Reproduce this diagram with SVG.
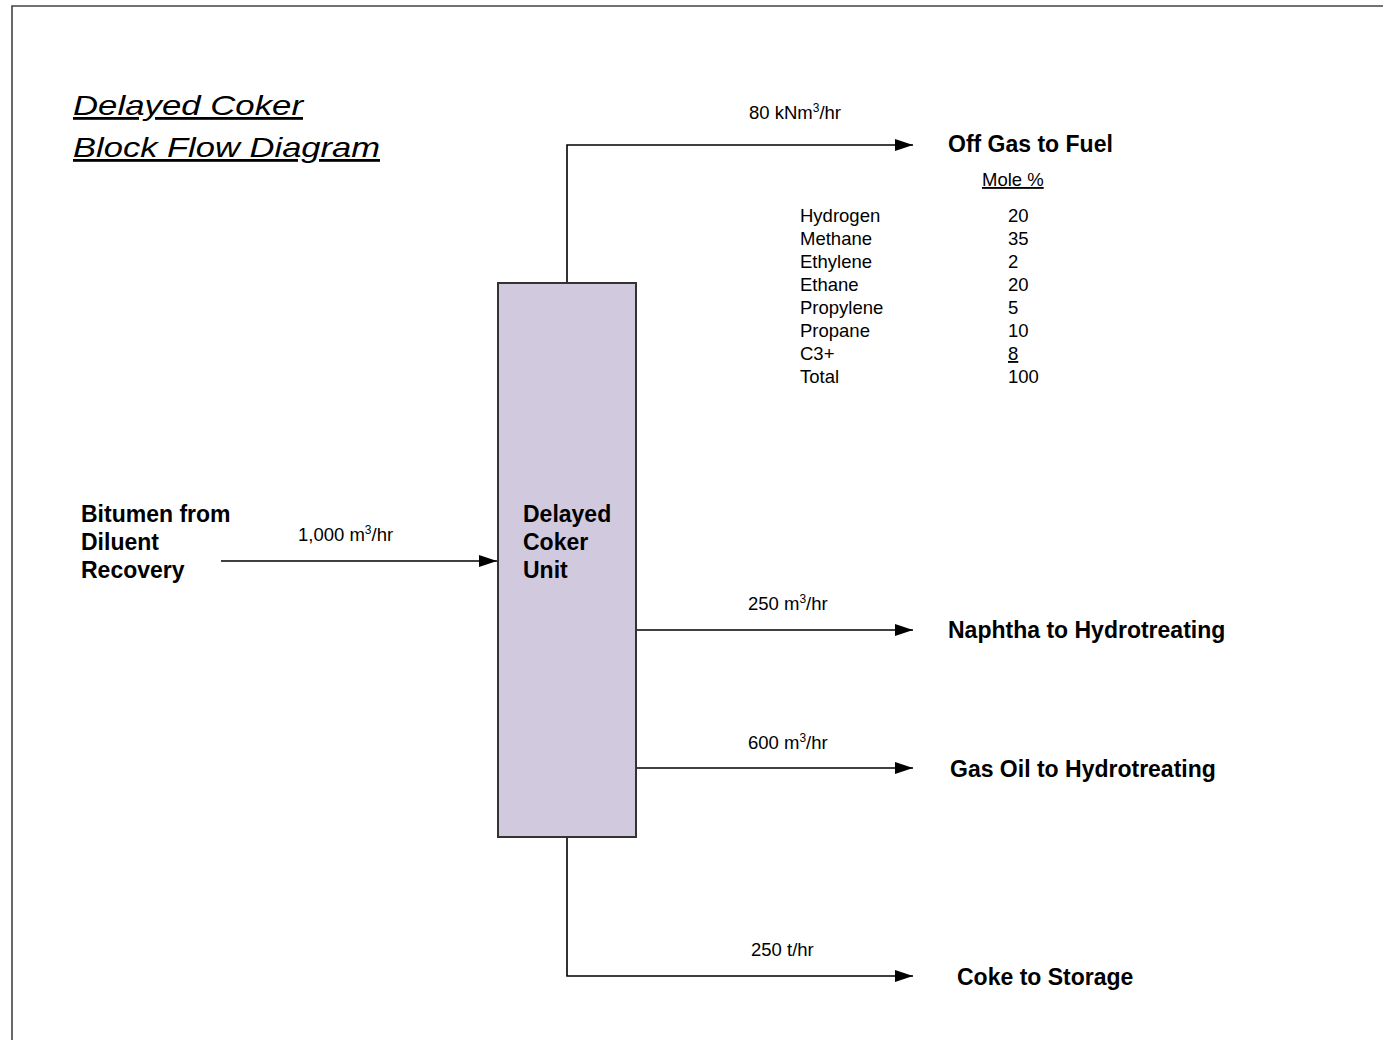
<svg xmlns="http://www.w3.org/2000/svg" width="1383" height="1040" viewBox="0 0 1383 1040">
<style>
text{font-family:"Liberation Sans",Arial,sans-serif;fill:#000}
.title{font-size:28px;font-style:italic;text-decoration:underline}
.lbl{font-size:23px;font-weight:bold}
.sm{font-size:18.5px}
.flow{fill:none;stroke:#000;stroke-width:1.6}
.u{text-decoration:underline}
</style>
<defs>
<marker id="arr" markerUnits="userSpaceOnUse" markerWidth="20" markerHeight="14" refX="18" refY="6" orient="auto">
<path d="M0,0 L18,6 L0,12 Z" fill="#000"/>
</marker>
</defs>
<rect width="1383" height="1040" fill="#fff"/>
<path d="M12,1040 V6 H1383" fill="none" stroke="#444" stroke-width="1.6"/>
<g id="title">
<text class="title" x="73" y="115" textLength="230" lengthAdjust="spacingAndGlyphs">Delayed Coker</text>
<text class="title" x="73" y="157" textLength="307" lengthAdjust="spacingAndGlyphs">Block Flow Diagram</text>
</g>
<g id="connectors">
<path class="flow" d="M221,561 H497" marker-end="url(#arr)"/>
<path class="flow" d="M567,283 V145 H913" marker-end="url(#arr)"/>
<path class="flow" d="M636,630 H913" marker-end="url(#arr)"/>
<path class="flow" d="M636,768 H913" marker-end="url(#arr)"/>
<path class="flow" d="M567,837 V976 H913" marker-end="url(#arr)"/>
<text class="sm" x="298" y="541">1,000 m<tspan dy="-7" font-size="12">3</tspan><tspan dy="7">/hr</tspan></text>
<text class="sm" x="749" y="119">80 kNm<tspan dy="-7" font-size="12">3</tspan><tspan dy="7">/hr</tspan></text>
<text class="sm" x="748" y="610">250 m<tspan dy="-7" font-size="12">3</tspan><tspan dy="7">/hr</tspan></text>
<text class="sm" x="748" y="749">600 m<tspan dy="-7" font-size="12">3</tspan><tspan dy="7">/hr</tspan></text>
<text class="sm" x="751" y="956">250 t/hr</text>
</g>
<g id="coker">
<rect x="498" y="283" width="138" height="554" fill="#d1c9de" stroke="#333" stroke-width="2"/>
<text class="lbl" x="523" y="522">Delayed</text>
<text class="lbl" x="523" y="550">Coker</text>
<text class="lbl" x="523" y="578">Unit</text>
</g>
<g id="bitumen">
<text class="lbl" x="81" y="522">Bitumen from</text>
<text class="lbl" x="81" y="550">Diluent</text>
<text class="lbl" x="81" y="578">Recovery</text>
</g>
<g id="offgas">
<text class="lbl" x="948" y="152">Off Gas to Fuel</text>
<text class="sm u" x="982" y="186">Mole %</text>
<g class="sm">
<text class="sm" x="800" y="222">Hydrogen</text><text class="sm" x="1008" y="222">20</text>
<text class="sm" x="800" y="245">Methane</text><text class="sm" x="1008" y="245">35</text>
<text class="sm" x="800" y="268">Ethylene</text><text class="sm" x="1008" y="268">2</text>
<text class="sm" x="800" y="291">Ethane</text><text class="sm" x="1008" y="291">20</text>
<text class="sm" x="800" y="314">Propylene</text><text class="sm" x="1008" y="314">5</text>
<text class="sm" x="800" y="337">Propane</text><text class="sm" x="1008" y="337">10</text>
<text class="sm" x="800" y="360">C3+</text><text class="sm u" x="1008" y="360">8</text>
<text class="sm" x="800" y="383">Total</text><text class="sm" x="1008" y="383">100</text>
</g>
</g>
<g id="naphtha"><text class="lbl" x="948" y="638">Naphtha to Hydrotreating</text></g>
<g id="gasoil"><text class="lbl" x="950" y="777">Gas Oil to Hydrotreating</text></g>
<g id="coke"><text class="lbl" x="957" y="985">Coke to Storage</text></g>
</svg>
